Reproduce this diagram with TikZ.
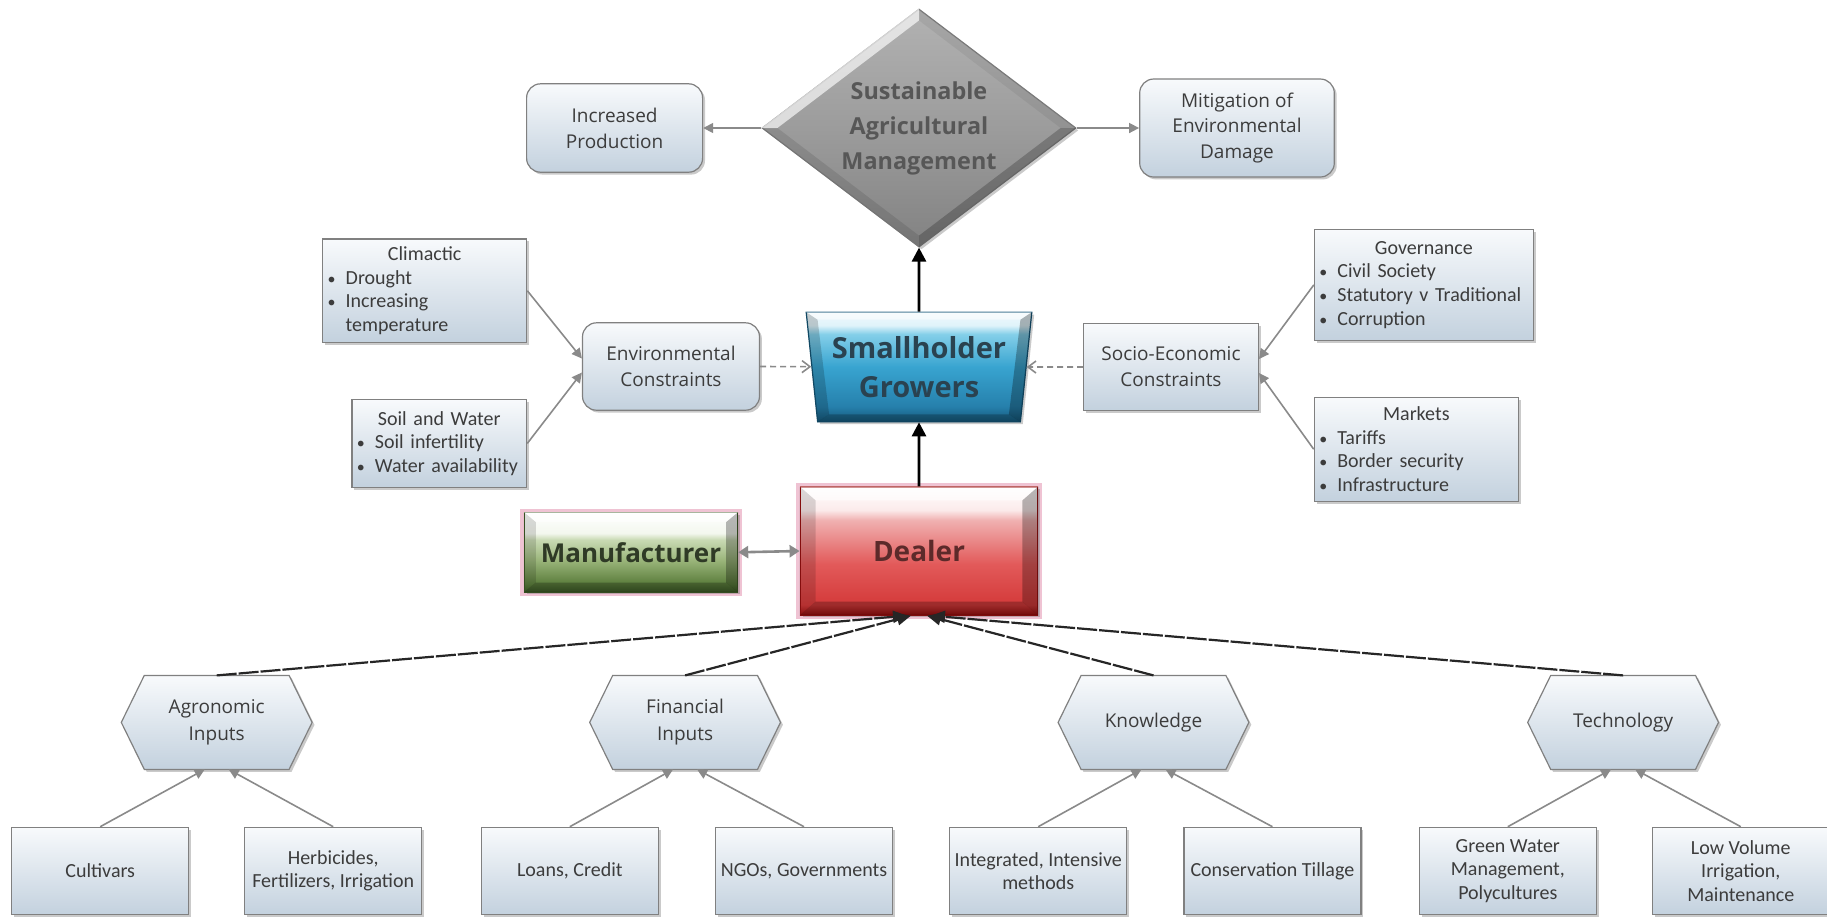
\documentclass[tikz,border=0pt]{standalone}
\usepackage{fontspec}
\setmainfont{Carlito}
\newfontfamily\osans{Open Sans}
\usetikzlibrary{shapes.geometric,shadows,arrows.meta,backgrounds}

\definecolor{bd}{HTML}{808080}
\definecolor{boxtop}{HTML}{F8FAFC}
\definecolor{boxbot}{HTML}{C3D1DE}
\definecolor{txt}{HTML}{3C3C3C}
\definecolor{arr}{HTML}{8A8A8A}
\definecolor{glow}{HTML}{EFC3D3}
% dealer
\definecolor{dr0}{HTML}{9A1010}
\definecolor{dr1}{HTML}{D43A3A}
\definecolor{dr2}{HTML}{E25A5A}
\definecolor{dr3}{HTML}{F0B0B0}
\definecolor{dr4}{HTML}{FBEAEA}
\definecolor{dr5}{HTML}{FFFFFF}
% smallholder
\definecolor{bl0}{HTML}{15587A}
\definecolor{bl1}{HTML}{2680AC}
\definecolor{bl2}{HTML}{38A4D0}
\definecolor{bl3}{HTML}{84CFE9}
\definecolor{bl4}{HTML}{DFF3FA}
\definecolor{bl5}{HTML}{F0F9FC}
% manufacturer
\definecolor{gr0}{HTML}{3F5E28}
\definecolor{gr1}{HTML}{5B7D3C}
\definecolor{gr2}{HTML}{9AB57A}
\definecolor{gr3}{HTML}{C9DAB4}
\definecolor{gr4}{HTML}{F3F7EE}
\definecolor{gr5}{HTML}{FFFFFF}
% diamond
\definecolor{dg0}{HTML}{828282}
\definecolor{dg1}{HTML}{9C9C9C}
\definecolor{dg2}{HTML}{B2B2B2}

\pgfdeclareverticalshading{dealersh}{100bp}{color(0bp)=(dr0); color(25bp)=(dr0); color(29bp)=(dr1); color(45bp)=(dr2); color(62bp)=(dr3); color(66bp)=(dr4); color(75bp)=(dr5); color(100bp)=(dr5)}
\pgfdeclareverticalshading{bluesh}{100bp}{color(0bp)=(bl0); color(25bp)=(bl0); color(32bp)=(bl1); color(50bp)=(bl2); color(65bp)=(bl3); color(69bp)=(bl4); color(75bp)=(bl5); color(100bp)=(bl5)}
\pgfdeclareverticalshading{greensh}{100bp}{color(0bp)=(gr0); color(25bp)=(gr0); color(30bp)=(gr1); color(45bp)=(gr2); color(58bp)=(gr3); color(62bp)=(gr4); color(75bp)=(gr5); color(100bp)=(gr5)}
\pgfdeclareverticalshading{graysh}{100bp}{color(0bp)=(dg0); color(25bp)=(dg0); color(50bp)=(dg1); color(75bp)=(dg2); color(100bp)=(dg2)}

\newcommand\bul{\makebox[9pt][l]{\fontsize{8}{8}\selectfont\textbullet}}
\newcommand\hexbg[1]{\shade[hexfill] (#1.west) -- ([xshift=11.5pt]#1.north west) -- ([xshift=-11.5pt]#1.north east) -- (#1.east) -- ([xshift=-11.5pt]#1.south east) -- ([xshift=11.5pt]#1.south west) -- cycle;}
% bevel for rectangular nodes: #1 node, #2 side width, #3 top/bottom height
\newcommand\rbevel[3]{%
  \fill[white, opacity=0.55] (#1.north west) -- (#1.north east) -- ([shift={(-#2,#3)}]#1.north east) -- ([shift={(#2,#3)}]#1.north west) -- cycle;
  \fill[black, opacity=0.14] (#1.north west) -- (#1.south west) -- ([shift={(#2,-#3)}]#1.south west) -- ([shift={(#2,#3)}]#1.north west) -- cycle;
  \fill[black, opacity=0.28] (#1.north east) -- (#1.south east) -- ([shift={(-#2,-#3)}]#1.south east) -- ([shift={(-#2,#3)}]#1.north east) -- cycle;
  \fill[black, opacity=0.25] (#1.south west) -- (#1.south east) -- ([shift={(-#2,-#3)}]#1.south east) -- ([shift={(#2,-#3)}]#1.south west) -- cycle;}
% bevel for the trapezium
\newcommand\tbevel[3]{%
  \fill[white, opacity=0.5] (#1.top left corner) -- (#1.top right corner) -- ([shift={(-#2,#3)}]#1.top right corner) -- ([shift={(#2,#3)}]#1.top left corner) -- cycle;
  \fill[black, opacity=0.18] (#1.top left corner) -- (#1.bottom left corner) -- ([shift={(#2,-#3)}]#1.bottom left corner) -- ([shift={(#2,#3)}]#1.top left corner) -- cycle;
  \fill[black, opacity=0.28] (#1.top right corner) -- (#1.bottom right corner) -- ([shift={(-#2,-#3)}]#1.bottom right corner) -- ([shift={(-#2,#3)}]#1.top right corner) -- cycle;
  \fill[black, opacity=0.22] (#1.bottom left corner) -- (#1.bottom right corner) -- ([shift={(-#2,-#3)}]#1.bottom right corner) -- ([shift={(#2,-#3)}]#1.bottom left corner) -- cycle;}
% bevel for the diamond
\newcommand\dbevel[3]{%
  \fill[white, opacity=0.65] (#1.west) -- (#1.north) -- ([shift={(0,#3)}]#1.north) -- ([shift={(#2,0)}]#1.west) -- cycle;
  \fill[black, opacity=0.06] (#1.north) -- (#1.east) -- ([shift={(-#2,0)}]#1.east) -- ([shift={(0,#3)}]#1.north) -- cycle;
  \fill[black, opacity=0.22] (#1.east) -- (#1.south) -- ([shift={(0,-#3)}]#1.south) -- ([shift={(-#2,0)}]#1.east) -- cycle;
  \fill[black, opacity=0.10] (#1.south) -- (#1.west) -- ([shift={(#2,0)}]#1.west) -- ([shift={(0,-#3)}]#1.south) -- cycle;}

\begin{document}
\begin{tikzpicture}[x=0.5pt,y=-0.5pt,
  shadowed/.style={drop shadow={shadow xshift=1.2pt, shadow yshift=-1.2pt, opacity=0.35, fill=black!60}},
  common/.style={shadowed, draw=bd, line width=0.6pt, top color=boxtop, bottom color=boxbot, text=txt, align=center, inner sep=2pt},
  rbox/.style={common, rounded corners=7pt, font=\osans\fontsize{9.5}{13}\selectfont},
  sqbox/.style={common, font=\osans\fontsize{9.5}{13}\selectfont},
  bbox/.style={common, align=left, inner xsep=2.5pt, inner ysep=1pt, font=\fontsize{10}{11.8}\selectfont},
  leaf/.style={common, minimum width=88.5pt, minimum height=43.7pt, inner sep=1pt, font=\fontsize{10}{11.7}\selectfont},
  hexa/.style={minimum width=95pt, minimum height=46.6pt, inner sep=0pt, align=center, text=txt, font=\osans\fontsize{9.5}{13.4}\selectfont},
  hexfill/.style={shadowed, draw=bd, line width=0.6pt, top color=boxtop, bottom color=boxbot},
  diam/.style={shadowed, diamond, aspect=1.32, minimum width=157pt, minimum height=119pt, inner sep=0pt, draw=dg0, line width=0.6pt, shading=graysh},
  shfont/.style={align=center, font=\osans\bfseries\fontsize{14.5}{19.8}\selectfont},
  trap/.style={shadowed, shfont, trapezium, trapezium left angle=99, trapezium right angle=99, trapezium stretches=true, minimum width=113pt, minimum height=54.7pt, inner sep=0pt, draw=bl0, line width=0.6pt, shading=bluesh},
  dealerbox/.style={preaction={draw=glow, line width=4pt}, shadowed, draw=dr0, line width=0.6pt, shading=dealersh, minimum width=118.8pt, minimum height=64pt},
  manbox/.style={preaction={draw=glow, line width=4pt}, shadowed, draw=gr0, line width=0.6pt, shading=greensh, minimum width=106.6pt, minimum height=39.6pt},
  garrow/.style={draw=arr, line width=0.8pt, -{Triangle[length=5pt,width=5pt]}},
  barrow/.style={draw=black, line width=1.4pt, -{Triangle[length=7pt,width=7pt]}},
  darrow/.style={draw=arr, line width=0.8pt, dash pattern=on 3pt off 2pt, -{Straight Barb[length=4pt,width=6pt]}},
  hdarrow/.style={draw=black!85, line width=1.1pt, dash pattern=on 10pt off 1pt, -{Triangle[length=7pt,width=6pt]}},
  duarrow/.style={draw=arr, line width=1.3pt, {Triangle[length=5pt,width=6pt]}-{Triangle[length=5pt,width=6pt]}}
]
\useasboundingbox (0,0) rectangle (1827,918);

% top
\node[diam] (sam) at (919,128) {\strut};
\dbevel{sam}{16}{12}
\node[align=center, text=black!66, font=\osans\bfseries\fontsize{11.7}{17.5}\selectfont] (samlabel) at (sam.center) {Sustainable\\Agricultural\\Management};
\node[rbox, minimum width=88pt, minimum height=44.2pt] (inc) at (614.6,128) {Increased\\Production};
\node[rbox, minimum width=97.3pt, minimum height=49pt, font=\osans\fontsize{9.5}{12.8}\selectfont] (mit) at (1237,128) {Mitigation of\\Environmental\\Damage};

% middle
\node[bbox, minimum width=102pt, minimum height=51.8pt, text width=97pt] (clim) at (424.7,290.7)
  {\makebox[\linewidth]{Climactic}\\\bul Drought\\\bul Increasing\\\hspace*{9pt}temperature};
\node[bbox, minimum width=87.4pt, minimum height=43.7pt, text width=82.4pt] (soil) at (439.3,443.4)
  {\makebox[\linewidth]{Soil and Water}\\\bul Soil infertility\\\bul Water availability};
\node[rbox, minimum width=88.5pt, minimum height=43.7pt] (env) at (671,366.5) {Environmental\\Constraints};
\node[trap] (sh) at (919,367) {\phantom{Smallholder}\\\phantom{Growers}};
\tbevel{sh}{12}{8}
\node[shfont, text={rgb,255:red,42;green,66;blue,80}] (shlabel) at (sh.center) {Smallholder\\Growers};
\node[sqbox, minimum width=87.4pt, minimum height=43.2pt] (soc) at (1171,367) {Socio-Economic\\Constraints};
\node[bbox, minimum width=109.5pt, minimum height=55.3pt, text width=104.5pt] (gov) at (1423.9,284.9)
  {\makebox[\linewidth]{Governance}\\\bul Civil Society\\\bul Statutory v Traditional\\\bul Corruption};
\node[bbox, minimum width=102pt, minimum height=51.9pt, text width=97pt] (mkt) at (1416.3,449.2)
  {\makebox[\linewidth]{Markets}\\\bul Tariffs\\\bul Border security\\\bul Infrastructure};

% dealer / manufacturer
\node[manbox] (man) at (631,552.3) {\strut};
\rbevel{man}{12}{10}
\node[text={rgb,255:red,47;green,58;blue,38}, font=\osans\bfseries\fontsize{13}{16}\selectfont] (manlabel) at (man.center) {Manufacturer};
\node[dealerbox] (dealer) at (919,551) {\strut};
\rbevel{dealer}{16}{14}
\node[text={rgb,255:red,92;green,42;blue,42}, font=\osans\bfseries\fontsize{14}{17}\selectfont] (dealerlabel) at (dealer.center) {Dealer};

% hexagons
\node[hexa] (agro) at (216.7,722.4) {Agronomic\\Inputs};
\node[hexa] (fin) at (685.1,722.4) {Financial\\Inputs};
\node[hexa] (know) at (1153.5,722.4) {Knowledge};
\node[hexa] (tech) at (1623.1,722.4) {Technology};
\begin{scope}[on background layer]
  \hexbg{agro}\hexbg{fin}\hexbg{know}\hexbg{tech}
\end{scope}

% leaves
\node[leaf] (cult) at (100.2,871) {Cultivars};
\node[leaf] (herb) at (333.2,871) {Herbicides,\\Fertilizers, Irrigation};
\node[leaf] (loan) at (569.8,871) {Loans, Credit};
\node[leaf] (ngo) at (804,871) {NGOs, Governments};
\node[leaf] (integ) at (1038.2,871) {Integrated, Intensive\\methods};
\node[leaf] (cons) at (1272.4,871) {Conservation Tillage};
\node[leaf] (green) at (1507.8,871) {Green Water\\Management,\\Polycultures};
\node[leaf] (lowv) at (1740.8,871) {Low Volume\\Irrigation,\\Maintenance};

% connectors
\draw[garrow] (sam.west) -- (inc.east);
\draw[garrow] (sam.east) -- (mit.west);
\draw[barrow] (sh.north) -- (sam.south);
\draw[barrow] (dealer.north) -- (sh.south);
\draw[garrow] (clim.east) -- ([yshift=4pt]env.west);
\draw[garrow] (soil.east) -- ([yshift=-3pt]env.west);
\draw[garrow] (gov.west) -- ([yshift=4pt]soc.east);
\draw[garrow] (mkt.west) -- ([yshift=-3pt]soc.east);
\draw[darrow] (env.east) -- (sh);
\draw[darrow] (soc.west) -- (sh);
\draw[duarrow] (man.east) -- (dealer.west);

\draw[hdarrow] (agro.north) -- ([xshift=-6pt]dealer.south);
\draw[hdarrow] (fin.north) -- ([xshift=-4pt]dealer.south);
\draw[hdarrow] (know.north) -- ([xshift=4pt]dealer.south);
\draw[hdarrow] (tech.north) -- ([xshift=6pt]dealer.south);

\draw[garrow] (cult.north) -- ([xshift=-6pt]agro.south);
\draw[garrow] (herb.north) -- ([xshift=6pt]agro.south);
\draw[garrow] (loan.north) -- ([xshift=-6pt]fin.south);
\draw[garrow] (ngo.north) -- ([xshift=6pt]fin.south);
\draw[garrow] (integ.north) -- ([xshift=-6pt]know.south);
\draw[garrow] (cons.north) -- ([xshift=6pt]know.south);
\draw[garrow] (green.north) -- ([xshift=-6pt]tech.south);
\draw[garrow] (lowv.north) -- ([xshift=6pt]tech.south);
\end{tikzpicture}
\end{document}
